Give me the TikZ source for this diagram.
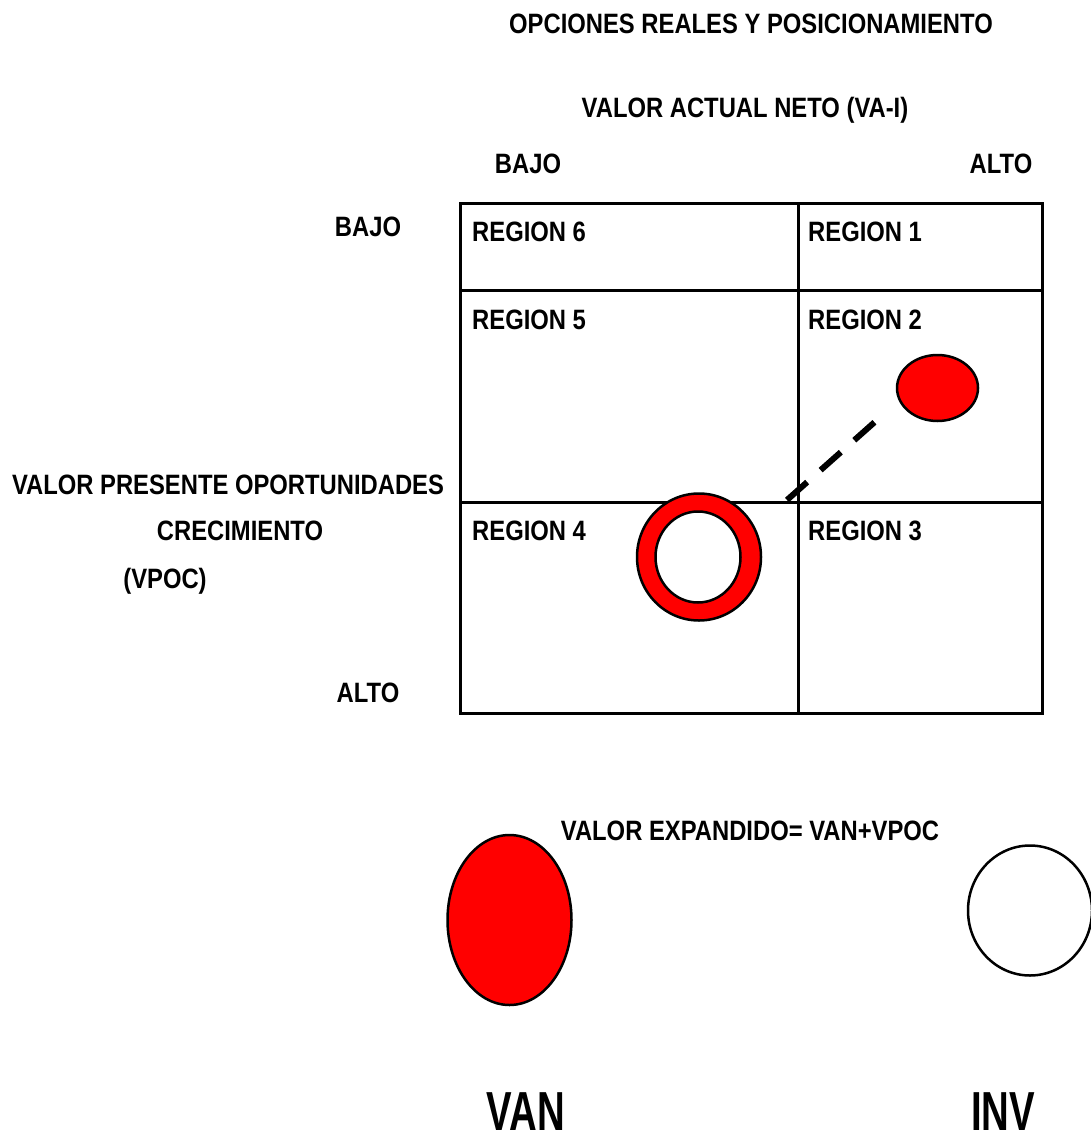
\documentclass[tikz,border=0pt]{standalone}
\usepackage{fontspec}
\setmainfont{Liberation Sans}[FakeStretch=0.85]
\begin{document}
\begin{tikzpicture}[x=1pt,y=-1pt,
  lbl/.style={inner sep=0pt,text height=20pt,text depth=0pt,
    font=\fontsize{28}{32}\selectfont\bfseries},
  biglbl/.style={inner sep=0pt,text height=40pt,text depth=0pt,
    font=\fontsize{55}{60}\selectfont\bfseries},
  grid/.style={line width=3pt},
  blob/.style={line width=2.5pt,draw=black},
  link/.style={line width=6pt,dash pattern=on 27pt off 18pt}]
\useasboundingbox (0,0) rectangle (1091,1140);

% headings
\node[lbl] (title) at (751,24) {OPCIONES REALES Y POSICIONAMIENTO};
\node[lbl] (van-axis) at (745,107) {VALOR ACTUAL NETO (VA-I)};
\node[lbl] (top-low) at (528,163) {BAJO};
\node[lbl] (top-high) at (1001,163) {ALTO};

% vertical axis labels
\node[lbl] (left-low) at (368,226) {BAJO};
\node[lbl] (left-high) at (368,692) {ALTO};
\node[lbl] (vp1) at (228,484) {VALOR PRESENTE OPORTUNIDADES};
\node[lbl] (vp2) at (240,530) {CRECIMIENTO};
\node[lbl] (vp3) at (165,578) {(VPOC)};

% the six-region matrix
\draw[grid] (460,203) rectangle (1042,713);
\draw[grid] (798,203) -- (798,713);
\draw[grid] (460,290) -- (1042,290);
\draw[grid] (460,502) -- (1042,502);

\node[lbl,anchor=west] (r6) at (472,231) {REGION 6};
\node[lbl,anchor=west] (r1) at (808,231) {REGION 1};
\node[lbl,anchor=west] (r5) at (472,319) {REGION 5};
\node[lbl,anchor=west] (r2) at (808,319) {REGION 2};
\node[lbl,anchor=west] (r4) at (472,530) {REGION 4};
\node[lbl,anchor=west] (r3) at (808,530) {REGION 3};

% project in region 2 and its move towards region 4
\draw[blob,fill=red] (937.5,388) ellipse [x radius=40.5,y radius=33];
\coordinate (move-from) at (877,420);
\coordinate (move-to) at (787,500);
\draw[link] (move-to) -- (move-from);

% ring in region 4
\draw[blob,fill=red] (699,557) ellipse [x radius=62,y radius=63.5];
\draw[blob,fill=white] (698,557) ellipse [x radius=42.5,y radius=45.5];

% expanded value legend
\node[lbl] (expanded) at (750,830) {VALOR EXPANDIDO= VAN+VPOC};
\draw[blob,fill=red] (509.5,920) ellipse [x radius=62,y radius=85];
\draw[blob] (1030,910.5) ellipse [x radius=62,y radius=65];
\node[biglbl] (van) at (526,1110) {\scalebox{0.82}[1]{VAN}};
\node[biglbl] (inv) at (1003,1110) {\scalebox{0.82}[1]{INV}};
\end{tikzpicture}
\end{document}
